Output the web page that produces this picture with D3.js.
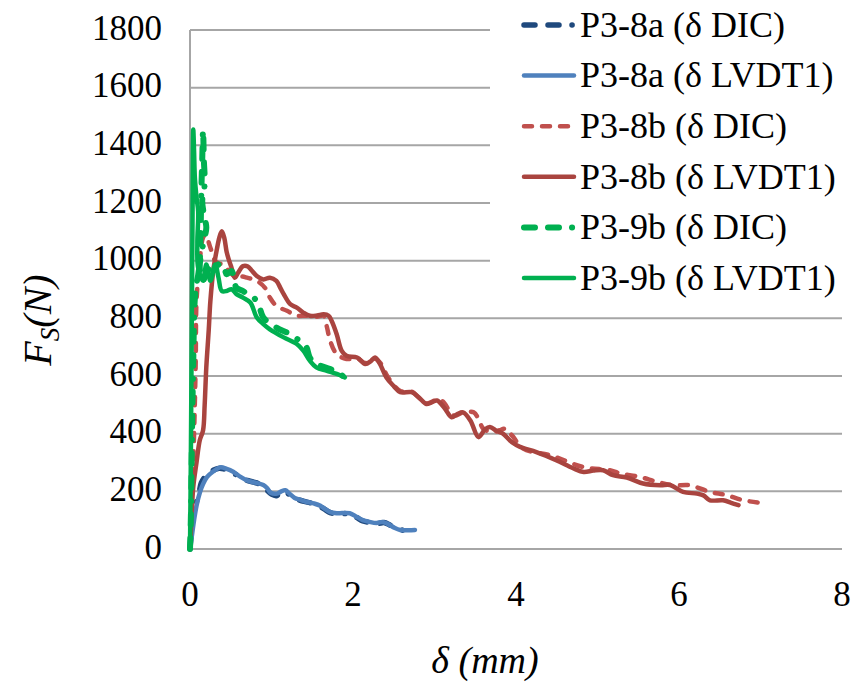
<!DOCTYPE html>
<html>
<head>
<meta charset="utf-8">
<script src="https://cdn.jsdelivr.net/npm/d3@7"></script>
<style>
  html, body { margin: 0; padding: 0; background: #fff; }
  svg { display: block; }
</style>
</head>
<body>
<svg id="chart" width="856" height="684"></svg>
<script>
// ---- data (δ in mm, F_S in N) ----
const xTicks = [0, 2, 4, 6, 8];
const yTicks = [0, 200, 400, 600, 800, 1000, 1200, 1400, 1600, 1800];

const seriesNames = [
  "P3-8a (δ DIC)", "P3-8a (δ LVDT1)",
  "P3-8b (δ DIC)", "P3-8b (δ LVDT1)",
  "P3-9b (δ DIC)", "P3-9b (δ LVDT1)"
];

const p38aDIC = [[0,0],[0.03,100],[0.06,150],[0.10,178],[0.14,230],[0.20,255],[0.28,272],[0.36,280],[0.44,275],[0.52,262],[0.60,255],[0.68,240],[0.78,232],[0.88,222],[0.94,205],[1.00,190],[1.06,185],[1.12,196],[1.17,200],[1.24,182],[1.32,172],[1.40,165],[1.48,160],[1.56,152],[1.64,140],[1.72,126],[1.82,122],[1.94,122],[2.04,110],[2.12,97],[2.22,92],[2.30,88],[2.38,92],[2.46,82],[2.56,70],[2.66,62],[2.74,62]];

const p38aLVDT = [[0,0],[0.02,40],[0.05,100],[0.08,150],[0.12,195],[0.16,225],[0.21,250],[0.28,268],[0.37,283],[0.45,278],[0.53,268],[0.62,250],[0.70,238],[0.80,230],[0.90,222],[0.95,210],[0.99,195],[1.07,192],[1.12,200],[1.17,204],[1.22,192],[1.28,178],[1.36,170],[1.44,163],[1.52,158],[1.60,150],[1.66,138],[1.72,128],[1.80,124],[1.96,124],[2.04,112],[2.12,100],[2.20,94],[2.29,90],[2.36,94],[2.42,88],[2.50,75],[2.58,66],[2.68,65],[2.76,66]];

const p38bDIC = [[0,0],[0.015,150],[0.03,215],[0.05,400],[0.07,650],[0.08,860],[0.12,1000],[0.16,1080],[0.19,1090],[0.25,1045],[0.31,999],[0.36,990],[0.41,987],[0.49,960],[0.57,941],[0.63,945],[0.70,941],[0.82,930],[0.92,906],[0.98,872],[1.06,843],[1.19,826],[1.31,809],[1.43,809],[1.55,805],[1.64,809],[1.68,770],[1.72,722],[1.80,676],[1.92,659],[2.05,662],[2.15,645],[2.27,660],[2.35,640],[2.42,600],[2.58,548],[2.72,546],[2.90,505],[3.03,518],[3.10,512],[3.24,462],[3.35,474],[3.48,474],[3.54,451],[3.60,417],[3.72,405],[3.80,412],[3.87,417],[3.95,394],[4.09,348],[4.42,325],[4.83,284],[5.15,273],[5.28,262],[5.52,250],[5.73,233],[5.93,221],[6.13,221],[6.38,198],[6.58,187],[6.79,169],[7.08,158]];

const p38bLVDT = [[0,0],[0.02,120],[0.04,215],[0.08,300],[0.12,377],[0.16,411],[0.18,500],[0.20,630],[0.23,760],[0.25,860],[0.29,975],[0.33,1040],[0.36,1080],[0.39,1102],[0.42,1080],[0.45,1030],[0.48,1000],[0.51,975],[0.55,941],[0.59,958],[0.65,981],[0.71,980],[0.76,965],[0.82,947],[0.90,935],[0.98,941],[1.06,930],[1.11,905],[1.15,884],[1.23,849],[1.31,837],[1.39,820],[1.47,809],[1.56,810],[1.64,814],[1.70,809],[1.74,790],[1.80,745],[1.86,688],[1.92,670],[2.05,664],[2.15,642],[2.22,652],[2.27,664],[2.33,642],[2.41,595],[2.50,565],[2.58,544],[2.72,544],[2.81,525],[2.90,503],[2.96,508],[3.03,515],[3.12,490],[3.21,457],[3.28,468],[3.35,474],[3.44,446],[3.54,388],[3.62,415],[3.68,423],[3.76,410],[3.84,400],[3.95,370],[4.05,354],[4.25,336],[4.50,307],[4.70,280],[4.83,267],[4.95,272],[5.07,273],[5.19,256],[5.36,248],[5.56,227],[5.77,221],[5.89,222],[6.05,198],[6.22,192],[6.30,186],[6.38,169],[6.54,169],[6.64,160],[6.73,152]];

const p39bDIC = [[0,0],[0.01,100],[0.02,300],[0.03,500],[0.04,650],[0.05,800],[0.06,870],[0.08,920],[0.10,950],[0.12,1000],[0.13,1100],[0.14,1250],[0.15,1350],[0.16,1453],[0.17,1350],[0.18,1264],[0.15,1206],[0.18,1148],[0.20,1114],[0.16,1056],[0.12,975],[0.16,930],[0.20,960],[0.25,975],[0.31,993],[0.36,985],[0.41,987],[0.45,953],[0.51,964],[0.57,906],[0.65,895],[0.72,880],[0.78,872],[0.84,849],[0.90,803],[1.06,768],[1.23,745],[1.39,711],[1.43,699],[1.47,664],[1.55,642],[1.72,624],[1.84,607],[1.92,590]];

const p39bLVDT = [[0,0],[0.01,300],[0.02,700],[0.03,1100],[0.04,1455],[0.05,1380],[0.06,1286],[0.08,1220],[0.10,1171],[0.09,1060],[0.10,975],[0.16,930],[0.20,987],[0.25,930],[0.31,987],[0.35,941],[0.39,895],[0.45,895],[0.51,901],[0.57,884],[0.65,872],[0.74,855],[0.82,803],[0.90,780],[0.98,762],[1.15,734],[1.31,711],[1.39,688],[1.47,653],[1.55,630],[1.68,618],[1.80,607],[1.90,595]];

const seriesData = [p38aDIC, p38aLVDT, p38bDIC, p38bLVDT, p39bDIC, p39bLVDT];
const seriesColors = ["#1f497d", "#4f81bd", "#c0504d", "#a9443f", "#00b050", "#00b050"];
const seriesWidths = [5.5, 4.5, 4.5, 4.5, 6, 4.5];
const seriesDash = ["11,13,11,13,0.1,13", null, "8,10", null, "11,13,11,13,0.1,13", null];

// ---- drawing ----
const FONT = '"Liberation Serif"';
const svg = d3.select("#chart");
const x = d3.scaleLinear().domain([0, 8]).range([190, 842]);
const y = d3.scaleLinear().domain([0, 1800]).range([549, 30]);
const gridColor = "#a6a6a6";

// gridlines
svg.append("g").selectAll("line").data(yTicks.filter(d => d > 0)).join("line")
  .attr("x1", x(0)).attr("x2", x(8))
  .attr("y1", d => y(d)).attr("y2", d => y(d))
  .attr("stroke", gridColor).attr("stroke-width", 2);

// axes lines
svg.append("line").attr("x1", x(0)).attr("x2", x(0)).attr("y1", y(0)).attr("y2", y(1800))
  .attr("stroke", gridColor).attr("stroke-width", 2);
svg.append("line").attr("x1", x(0)).attr("x2", x(8)).attr("y1", y(0)).attr("y2", y(0))
  .attr("stroke", gridColor).attr("stroke-width", 2);

// tick labels
svg.append("g").selectAll("text").data(yTicks).join("text")
  .style("font-family", FONT)
  .attr("x", 162).attr("y", d => y(d)).attr("dy", "0.28em")
  .attr("text-anchor", "end").attr("font-size", 35)
  .text(d => d);
svg.append("g").selectAll("text").data(xTicks).join("text")
  .style("font-family", FONT)
  .attr("x", d => x(d)).attr("y", 594).attr("dy", "0.33em")
  .attr("text-anchor", "middle").attr("font-size", 35)
  .text(d => d);

// axis titles
const yt = svg.append("text")
  .style("font-family", FONT)
  .attr("transform", "translate(51,320) rotate(-90)")
  .attr("text-anchor", "middle").attr("font-size", 40).attr("font-style", "italic");
yt.append("tspan").text("F");
yt.append("tspan").attr("font-size", 27).attr("dy", 8).text("S");
yt.append("tspan").attr("dy", -8).text("(N)");

const xt = svg.append("text")
  .style("font-family", FONT)
  .attr("x", 485).attr("y", 673)
  .attr("text-anchor", "middle").attr("font-size", 38).attr("font-style", "italic");
xt.append("tspan").text("δ");
xt.append("tspan").text(" (mm)");

// legend background
svg.append("rect").attr("x", 490).attr("y", 0).attr("width", 366).attr("height", 300).attr("fill", "#fff");

// series
const line = d3.line().x(d => x(d[0])).y(d => y(d[1])).curve(d3.curveCatmullRom.alpha(0.5));
const order = [0, 1, 2, 3, 4, 5];
svg.append("g").selectAll("path").data(order).join("path")
  .attr("d", i => line(seriesData[i]))
  .attr("fill", "none")
  .attr("stroke", i => seriesColors[i])
  .attr("stroke-width", i => seriesWidths[i])
  .attr("stroke-dasharray", i => seriesDash[i])
  .attr("stroke-linecap", "round")
  .attr("stroke-linejoin", "round");

// legend
const lg = svg.append("g").selectAll("g").data(order).join("g")
  .attr("transform", i => `translate(0,${25 + i * 50.6})`);
lg.append("line")
  .attr("x1", 524).attr("x2", 574).attr("y1", 0).attr("y2", 0)
  .attr("stroke", i => seriesColors[i])
  .attr("stroke-width", i => seriesWidths[i])
  .attr("stroke-dasharray", i => seriesDash[i])
  .attr("stroke-linecap", "round");
lg.append("text")
  .style("font-family", FONT)
  .attr("x", 580).attr("y", 0).attr("dy", "0.33em").attr("font-size", 36)
  .text(i => seriesNames[i]);
</script>
</body>
</html>
